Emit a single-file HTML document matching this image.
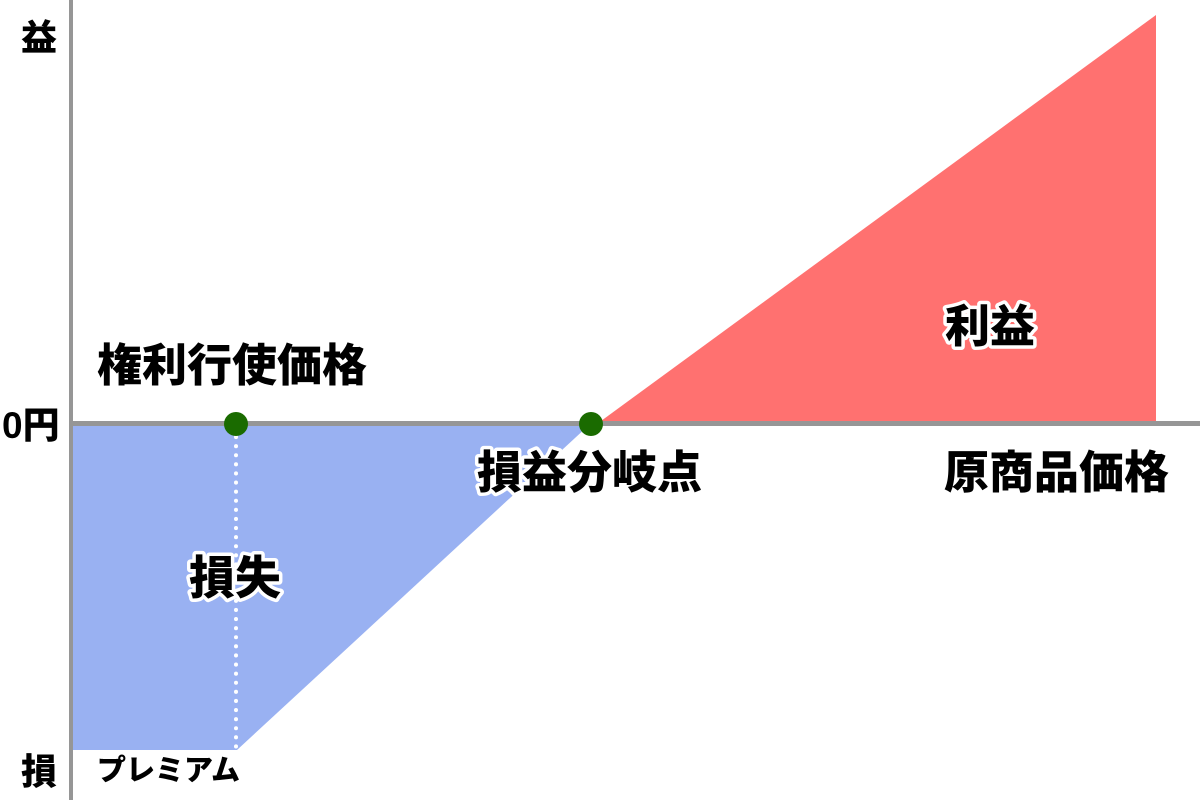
<!DOCTYPE html>
<html><head><meta charset="utf-8"><style>
html,body{margin:0;padding:0;background:#fff;}
svg{display:block;}
text{font-family:"Liberation Sans","Noto Sans CJK JP",sans-serif;font-weight:900;fill:#000;}
.h{stroke:#fff;stroke-width:7px;paint-order:stroke;stroke-linejoin:round;}
</style></head><body>
<svg width="1200" height="800" viewBox="0 0 1200 800" xmlns="http://www.w3.org/2000/svg">
<polygon points="73,426 588,426 237,750 73,750" fill="#99b1f2"/>
<polygon points="601,421 1156,15 1156,421" fill="#ff7170"/>
<line x1="236" y1="437" x2="236" y2="748" stroke="#fff" stroke-width="4" stroke-dasharray="0.1 9" stroke-linecap="round"/>
<rect x="69" y="0" width="4" height="800" fill="#969696"/>
<rect x="69" y="421" width="1131" height="5" fill="#969696"/>
<circle cx="236" cy="424" r="12" fill="#1a6b00"/>
<circle cx="591" cy="424" r="12" fill="#1a6b00"/>
<text x="21" y="50" font-size="36">益</text>
<text x="21" y="784" font-size="36">損</text>
<text x="2" y="438" font-size="37">0円</text>
<text x="97" y="381" font-size="45" class="h">権利行使価格</text>
<text x="477" y="488" font-size="45" class="h">損益分岐点</text>
<text x="944" y="488" font-size="45" class="h">原商品価格</text>
<text x="945" y="342" font-size="45" class="h">利益</text>
<text x="189" y="594" font-size="46" class="h">損失</text>
<text x="97" y="780" font-size="29">プレミアム</text>
</svg>
</body></html>
